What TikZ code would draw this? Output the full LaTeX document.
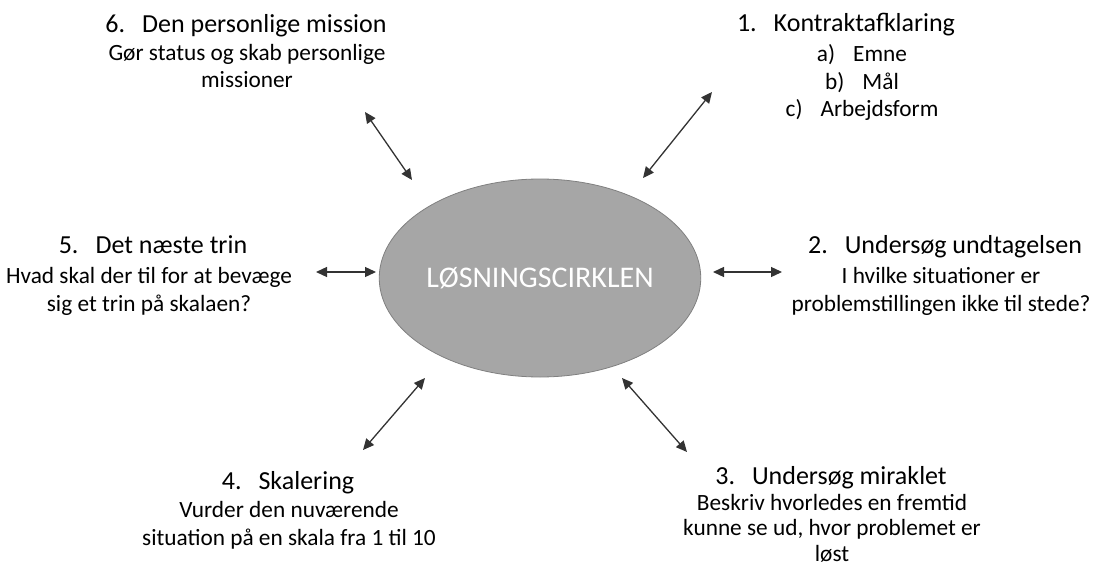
\documentclass[tikz,border=0pt]{standalone}
\usepackage{fontspec}
\setmainfont{Carlito}
\usetikzlibrary{shapes.geometric,arrows.meta}

\newcommand{\trin}[2]{#1.\hspace{17pt}#2}
\newcommand{\punkt}[2]{#1)\hspace{18pt}#2}

\tikzset{
  overskrift/.style={font=\fontsize{26}{30}\selectfont, anchor=base, inner sep=0pt},
  % anchor=base sidder paa sidste linje
  tekst/.style={font=\fontsize{23.3}{27.5}\selectfont, align=center, anchor=base, inner sep=0pt},
  pil/.style={<->, draw=black!80, line width=1.3pt},
  >={Triangle[length=11pt,width=10pt]}
}

\begin{document}
\begin{tikzpicture}[x=1pt, y=-1pt]
        \useasboundingbox (0,0) rectangle (1102,567);
        % midten
        \node [ellipse, draw=black!50, line width=0.8pt, fill=black!35,
               minimum width=296pt, minimum height=198pt, inner sep=0pt,
               text=white, font=\fontsize{30}{34}\selectfont] (cirkel) at (540,278) {LØSNINGSCIRKLEN};
        % trinene
        \node [overskrift] (t1) at (846,32) {\trin{1}{Kontraktafklaring}};
        \node [tekst] (t1b) at (862,117) {\punkt{a}{Emne}\\\punkt{b}{Mål}\\\punkt{c}{Arbejdsform}};
        \node [overskrift] (t2) at (945,253) {\trin{2}{Undersøg undtagelsen}};
        \node [tekst] (t2b) at (941,311) {I hvilke situationer er\\problemstillingen ikke til stede?};
        \node [overskrift] (t3) at (831,484) {\trin{3}{Undersøg miraklet}};
        \node [tekst, font=\fontsize{23.3}{25.5}\selectfont] (t3b) at (832,561) {Beskriv hvorledes en fremtid\\kunne se ud, hvor problemet er\\løst};
        \node [overskrift] (t4) at (288,489) {\trin{4}{Skalering}};
        \node [tekst] (t4b) at (289,545) {Vurder den nuværende\\situation på en skala fra 1 til 10};
        \node [overskrift] (t5) at (153,253) {\trin{5}{Det næste trin}};
        \node [tekst] (t5b) at (149,311) {Hvad skal der til for at bevæge\\sig et trin på skalaen?};
        \node [overskrift] (t6) at (246,33) {\trin{6}{Den personlige mission}};
        \node [tekst] (t6b) at (247,88) {Gør status og skab personlige\\missioner};
        % pilene
        \coordinate (p1a) at (643,178);
        \coordinate (p1b) at (712,92);
        \coordinate (p2a) at (713,272);
        \coordinate (p2b) at (782,272);
        \coordinate (p3a) at (622,378);
        \coordinate (p3b) at (687,452);
        \coordinate (p4a) at (425,378);
        \coordinate (p4b) at (363,450);
        \coordinate (p5a) at (376,272);
        \coordinate (p5b) at (316,272);
        \coordinate (p6a) at (412,180);
        \coordinate (p6b) at (365,112);
        \draw [pil] (p1a) -- (p1b);
        \draw [pil] (p2a) -- (p2b);
        \draw [pil] (p3a) -- (p3b);
        \draw [pil] (p4a) -- (p4b);
        \draw [pil] (p5a) -- (p5b);
        \draw [pil] (p6a) -- (p6b);
    \end{tikzpicture}
\end{document}
